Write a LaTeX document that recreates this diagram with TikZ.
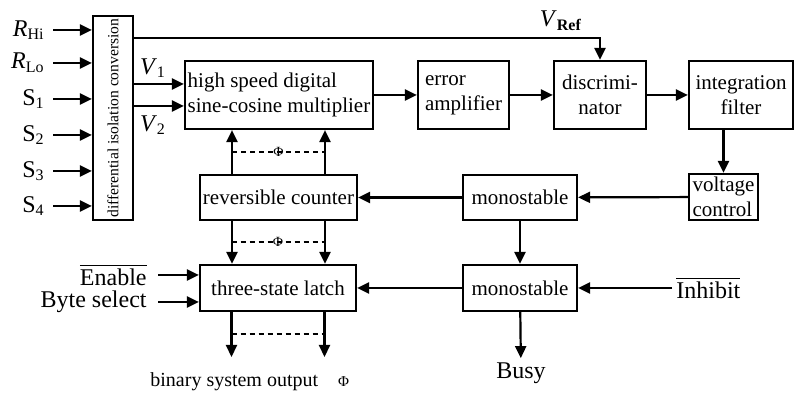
\documentclass[tikz,border=0pt]{standalone}
\usepackage{fontspec}
\setmainfont{Liberation Serif}
\usetikzlibrary{arrows.meta}

\begin{document}
\begin{tikzpicture}[x=0.5pt,y=-0.5pt,
    blk/.style={draw,line width=1.1pt,inner sep=1pt,font=\fontsize{10.5}{12.5}\selectfont},
    lbl/.style={inner sep=2pt,font=\fontsize{12}{14}\selectfont},
    arr/.style={line width=1.1pt,-{Triangle[length=6pt,width=5.5pt]}},
    bus/.style={line width=0.8pt,dash pattern=on 2.5pt off 2pt},
    phi/.style={inner sep=0pt,font=\fontsize{7}{7}\selectfont}]
    \useasboundingbox(0,0)rectangle(794,394);
    % blocks
    \node[blk,rotate=90,minimum width=102pt,minimum height=20pt,font=\fontsize{7.8}{9}\selectfont](iso)at(113,118){differential isolation conversion};
    \node[blk,align=left,minimum width=94pt,minimum height=34pt](mult)at(279,95){high speed digital\\sine-cosine multiplier};
    \node[blk,align=left,minimum width=45.5pt,minimum height=34pt](err)at(463.5,95){error\\amplifier};
    \node[blk,align=center,minimum width=46pt,minimum height=34pt](disc)at(600,95){discrimi-\\nator};
    \node[blk,align=center,minimum width=52pt,minimum height=34pt](integ)at(741,95){integration\\filter};
    \node[blk,align=left,minimum width=34.5pt,minimum height=23pt](vc)at(723.5,197){voltage\\control};
    \node[blk,minimum width=57pt,minimum height=22.5pt](mono1)at(520,197.5){monostable};
    \node[blk,minimum width=78.5pt,minimum height=22.5pt](cnt)at(278.5,197.5){reversible counter};
    \node[blk,minimum width=78pt,minimum height=23pt](latch)at(278,288){three-state latch};
    \node[blk,minimum width=57pt,minimum height=23pt](mono2)at(520,288){monostable};
    % inputs
    \node[lbl,anchor=east](in1)at(49,30){\textit{R}\textsubscript{Hi}};
    \node[lbl,anchor=east](in2)at(49,63){\textit{R}\textsubscript{Lo}};
    \node[lbl,anchor=east](in3)at(49,99){S\textsubscript{1}};
    \node[lbl,anchor=east](in4)at(49,135){S\textsubscript{2}};
    \node[lbl,anchor=east](in5)at(49,171){S\textsubscript{3}};
    \node[lbl,anchor=east](in6)at(49,206){S\textsubscript{4}};
    \foreach \i in{1,...,6}
    \draw[arr,shorten <=2pt](in\i.east)--(in\i.east-|iso.north);
    % reference and signal lines
    \coordinate(vr)at(0,38);
    \node[lbl](vref)at(561,21){\textit{V}\textsubscript{\textbf{Ref}}};
    \draw[arr](iso.south|-vr)-|(disc.north);
    \coordinate(v1)at([yshift=5.5pt]mult.west);
    \coordinate(v2)at([yshift=-5.5pt]mult.west);
    \node[lbl](lv1)at(153,68){\textit{V}\textsubscript{1}};
    \node[lbl](lv2)at(153,125){\textit{V}\textsubscript{2}};
    \draw[arr](iso.south|-v1)--(v1);
    \draw[arr](iso.south|-v2)--(v2);
    \draw[arr](mult)--(err);
    \draw[arr](err)--(disc);
    \draw[arr](disc)--(integ);
    \draw[arr](vc.north|-integ.south)--(vc.north);
    \draw[arr](vc)--(mono1);
    \draw[arr](mono1)--(cnt);
    \draw[arr](mono1)--(mono2);
    \draw[arr](mono2)--(latch);
    % data buses
    \coordinate(out)at(0,357);
    \foreach \s in{-23.25,23.25}{
        \draw[arr]([xshift=\s pt]cnt.north)--([xshift=\s pt]cnt.north|-mult.south);
        \draw[arr]([xshift=\s pt]cnt.south)--([xshift=\s pt]cnt.south|-latch.north);
        \draw[arr]([xshift=\s pt]latch.south)--([xshift=\s pt]latch.south|-out);
    }
    \draw[bus]([xshift=-23.25pt,yshift=11pt]cnt.north)--node[phi](phi1){Φ}([xshift=23.25pt,yshift=11pt]cnt.north);
    \draw[bus]([xshift=-23.25pt,yshift=11pt]latch.north)--node[phi](phi2){Φ}([xshift=23.25pt,yshift=11pt]latch.north);
    \draw[bus]([xshift=-23.25pt,yshift=-11pt]latch.south)--([xshift=23.25pt,yshift=-11pt]latch.south);
    \node[anchor=west,inner sep=0pt,font=\fontsize{10}{12}\selectfont](bso)at(150,382){binary system output\quad{\fontsize{7.5}{7.5}\selectfont Φ}};
    % control lines
    \node[lbl,anchor=east](en)at(151,275){$\overline{\mbox{Enable}}$};
    \node[lbl,anchor=east](bs)at(151,302){Byte select};
    \draw[arr,shorten <=3.5pt](en.east)--(en.east-|latch.west);
    \draw[arr,shorten <=3.5pt](bs.east)--(bs.east-|latch.west);
    \node[lbl,anchor=west](inh)at(672,288){$\overline{\mbox{Inhibit}}$};
    \draw[arr](inh)--(mono2);
    \node[lbl](busy)at(521,373){Busy};
    \draw[arr](mono2)--(busy);
\end{tikzpicture}
\end{document}
